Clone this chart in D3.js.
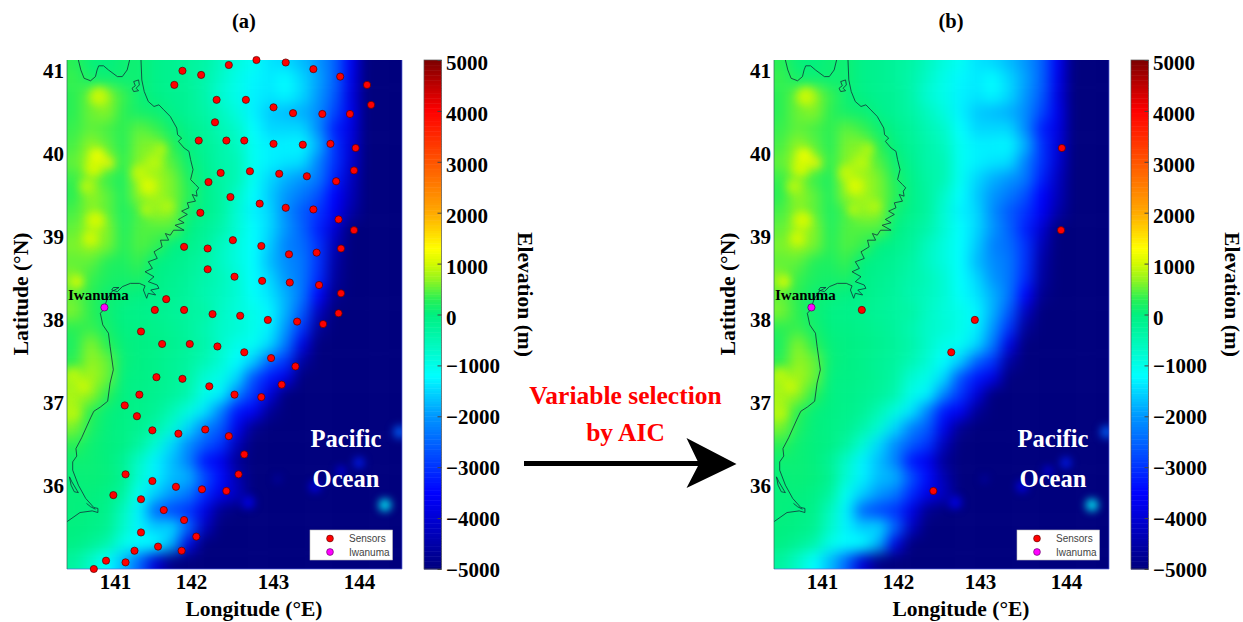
<!DOCTYPE html>
<html lang="en">
<head>
  <meta charset="UTF-8">
  <title>Sensor layout before and after variable selection</title>
  <script src="https://cdn.jsdelivr.net/npm/d3@7"></script>
  <style>
    body { margin: 0; background: #fff; }
    svg { display: block; }
    text { font-family: "Liberation Serif", serif; font-weight: bold; fill: #000; }
    .legend-label { font-family: "Liberation Sans", sans-serif; font-weight: normal; font-size: 10px; fill: #444; }
  </style>
</head>
<body>
<svg width="1243" height="622"></svg>
<script>
// elevation, one row per latitude, one value per longitude (m)
var gridLon = [140.5,140.7,140.9,141.1,141.3,141.5,141.7,141.9,142.1,142.3,142.5,142.7,142.9,143.1,143.3,143.5,143.7,143.9,144.1,144.3,144.5];
var gridLat = [41.1,40.9,40.7,40.5,40.3,40.1,39.9,39.7,39.5,39.3,39.1,38.9,38.7,38.5,38.3,38.1,37.9,37.7,37.5,37.3,37.1,36.9,36.7,36.5,36.3,36.1,35.9,35.7,35.5,35.3,35.1];
var elevation = [
  [300,50,0,100,100,-100,-150,-250,-350,-600,-900,-1100,-1400,-1500,-1700,-2000,-2500,-3600,-5000,-5000,-5000],
  [350,150,100,80,100,-100,-150,-250,-400,-700,-1000,-1250,-1350,-1200,-1500,-1900,-2500,-3700,-5000,-5000,-5000],
  [300,550,700,350,80,-50,-150,-200,-400,-800,-1000,-1300,-1400,-1250,-1500,-2000,-2600,-3800,-5000,-5000,-5000],
  [300,550,650,300,150,100,-100,-200,-350,-600,-900,-1300,-1600,-1700,-1800,-2100,-2800,-3700,-5000,-5000,-5000],
  [350,500,400,300,500,350,100,-100,-250,-500,-700,-1200,-1500,-1500,-1500,-2100,-3200,-3800,-5000,-5000,-5000],
  [400,700,500,250,600,650,300,0,-200,-400,-600,-1100,-1300,-1300,-1250,-1800,-3000,-3900,-5000,-5000,-5000],
  [500,800,800,300,650,700,450,100,-150,-400,-500,-1100,-1300,-1400,-1450,-2200,-3000,-4000,-5000,-5000,-5000],
  [350,650,350,200,750,800,600,200,-100,-350,-500,-1100,-1500,-1800,-2000,-2300,-3200,-4200,-5000,-5000,-5000],
  [300,700,500,200,700,800,600,300,-100,-300,-700,-1200,-1600,-2000,-2300,-2700,-3500,-4300,-5000,-5000,-5000],
  [400,650,500,200,400,700,650,100,-100,-300,-800,-1300,-1500,-2100,-2600,-3000,-3600,-4500,-5000,-5000,-5000],
  [500,750,650,200,450,450,450,0,-200,-400,-800,-1200,-1500,-2000,-2500,-3200,-4000,-5000,-5000,-5000,-5000],
  [600,750,600,250,450,350,-20,-100,-250,-600,-900,-1200,-1600,-2200,-2400,-3000,-4300,-5000,-5000,-5000,-5000],
  [500,500,250,200,350,-10,-100,-200,-350,-650,-900,-1200,-1700,-2100,-2300,-3000,-4500,-5000,-5000,-5000,-5000],
  [650,350,200,150,200,-50,-150,-250,-400,-550,-800,-1200,-1500,-2000,-2300,-3100,-4600,-5000,-5000,-5000,-5000],
  [500,300,100,50,-20,-80,-180,-280,-450,-600,-800,-1150,-1400,-1800,-2300,-3500,-4800,-5000,-5000,-5000,-5000],
  [600,300,100,-50,-100,-150,-220,-300,-350,-650,-850,-1000,-1250,-1800,-2600,-4200,-5000,-5000,-5000,-5000,-5000],
  [300,350,150,0,-50,-100,-180,-280,-450,-700,-800,-1000,-1300,-2000,-3000,-4700,-5000,-5000,-5000,-5000,-5000],
  [200,650,300,30,-30,-80,-150,-250,-400,-700,-1000,-1100,-1500,-2300,-3800,-5000,-5000,-5000,-5000,-5000,-5000],
  [300,700,550,50,-30,-100,-200,-300,-500,-800,-1200,-1600,-2500,-3000,-4600,-5000,-5000,-5000,-5000,-5000,-5000],
  [700,800,550,0,-50,-100,-200,-350,-800,-1000,-1500,-2700,-3300,-3800,-5000,-5000,-5000,-5000,-5000,-5000,-5000],
  [800,700,300,-20,-80,-150,-250,-450,-1000,-1300,-2200,-3000,-3900,-5000,-5000,-5000,-5000,-5000,-5000,-5000,-5000],
  [800,300,50,-30,-100,-200,-500,-900,-1400,-2200,-3300,-3600,-4700,-5000,-5000,-5000,-5000,-5000,-5000,-5000,-5000],
  [600,200,30,-50,-150,-400,-800,-1500,-2200,-2600,-3700,-4800,-5000,-5000,-5000,-5000,-5000,-5000,-5000,-5000,-5000],
  [300,100,20,-50,-300,-800,-1500,-2100,-2600,-3000,-4300,-5000,-5000,-5000,-5000,-5000,-5000,-5000,-5000,-5000,-5000],
  [100,80,20,-200,-700,-1300,-1700,-2200,-3300,-3700,-4700,-5000,-5000,-5000,-5000,-5000,-5000,-5000,-5000,-5000,-5000],
  [50,60,30,-150,-800,-1300,-1700,-1800,-2700,-3400,-4400,-5000,-5000,-5000,-5000,-5000,-5000,-5000,-5000,-5000,-5000],
  [30,30,-50,-300,-1100,-1600,-2000,-2300,-3100,-3800,-4200,-5000,-5000,-5000,-5000,-5000,-5000,-5000,-5000,-5000,-5000],
  [30,-30,-100,-600,-1300,-2500,-2800,-3000,-3800,-4800,-5000,-5000,-5000,-5000,-5000,-5000,-5000,-5000,-5000,-5000,-5000],
  [0,-50,-150,-700,-1300,-1600,-1500,-2500,-4200,-5000,-5000,-5000,-5000,-5000,-5000,-5000,-5000,-5000,-5000,-5000,-5000],
  [-50,-200,-400,-1000,-1200,-1200,-1800,-3800,-5000,-5000,-5000,-5000,-5000,-5000,-5000,-5000,-5000,-5000,-5000,-5000,-5000],
  [-300,-700,-1200,-1700,-2500,-4000,-4900,-5000,-5000,-5000,-5000,-5000,-5000,-5000,-5000,-5000,-5000,-5000,-5000,-5000,-5000]
];

// small features the grid is too coarse for: [lon, lat, elevation, radius]
var mountainPeaks = [
  [140.80,40.69,950,9],[140.78,39.97,1150,8],[140.92,39.89,1400,4],[140.74,39.83,1000,8],[140.66,39.61,850,7],
  [141.41,39.61,1050,8],[141.31,39.77,900,8],[141.56,40.05,850,6],[141.48,39.89,850,8],[141.64,39.37,850,6],
  [140.76,39.20,1000,9],[140.70,38.98,1000,7],[140.53,38.46,1050,6],[141.39,39.33,850,6],
  [140.61,37.20,950,6],[140.47,36.88,850,7],[140.49,37.32,850,8]
];
var seamounts = [
  [144.32,35.77,-1200,6],[144.50,36.65,-2500,6],[144.00,36.28,-3200,5],[143.78,36.18,-3500,4],
  [143.46,35.99,-3500,5],[142.64,35.80,-3700,6],[143.00,36.08,-4200,3]
];

var colorValues = [-5000,-3500,-2000,-1200,-500,0,300,700,1000,1300,2000,3000,4000,5000];
var colorStops = ["#00007d","#0000ff","#0096ff","#00ffff","#00f8b4","#00f080","#28f055","#96f51e","#d2fa00","#ffff00","#ffaa00","#ff5500","#ff0000","#7d0000"];

// sensors, [lon, lat]
var sensorsA = [
  [142.74,41.13],[143.10,41.10],[142.40,41.07],[143.44,41.02],[141.83,41.00],[142.06,40.95],[143.77,40.93],[141.73,40.83],[144.10,40.83],
  [142.25,40.65],[142.61,40.65],[144.15,40.59],[142.95,40.56],[143.19,40.49],[143.55,40.48],[143.89,40.48],[142.23,40.38],
  [142.03,40.16],[142.37,40.16],[142.59,40.16],[142.95,40.12],[143.31,40.11],[143.65,40.12],[143.96,40.07],
  [143.94,39.80],[142.30,39.77],[142.66,39.79],[143.02,39.76],[143.36,39.73],[143.72,39.67],[142.15,39.66],
  [142.42,39.48],[142.78,39.40],[143.10,39.35],[143.44,39.33],[142.05,39.29],[143.75,39.21],[143.94,39.08],
  [142.45,38.96],[141.85,38.88],[142.14,38.86],[142.80,38.89],[143.14,38.79],[143.48,38.81],[143.78,38.86],
  [142.14,38.61],[142.47,38.52],[142.81,38.47],[143.15,38.45],[143.51,38.42],[143.78,38.32],[141.63,38.25],
  [141.49,38.12],[141.85,38.12],[142.20,38.07],[142.54,38.05],[142.88,38.00],[143.24,37.98],[143.56,37.95],[143.75,38.08],
  [141.32,37.86],[141.58,37.71],[141.92,37.71],[142.26,37.68],[142.59,37.61],[142.92,37.54],[143.22,37.44],
  [143.05,37.22],[142.80,37.07],[142.47,37.10],[142.16,37.20],[141.83,37.29],[141.51,37.31],[141.30,37.10],[141.12,36.97],
  [141.27,36.84],[141.46,36.67],[141.78,36.63],[142.11,36.68],[142.40,36.60],[142.59,36.38],[142.52,36.14],[141.13,36.14],
  [141.46,36.06],[141.75,35.99],[142.07,35.96],[142.37,35.94],[140.98,35.89],[141.32,35.84],[141.60,35.71],[141.85,35.59],
  [141.32,35.44],[142.00,35.39],[141.53,35.27],[141.24,35.22],[141.82,35.22],[140.89,35.10],[141.13,35.08],[140.74,35.00]
];
var sensorsB = [[143.95,40.07],[143.94,39.08],[141.49,38.12],[142.88,38.00],[142.59,37.61],[142.37,35.94]];
var iwanuma = [140.87,38.15];

// coastline pieces, [lon, lat]
var coastBays = [[140.55,41.13],[140.58,41.01],[140.62,40.91],[140.70,40.88],[140.76,40.93],[140.78,41.01],[140.80,41.06],[140.86,41.06],[140.92,41.01],[141.03,40.93],[141.09,40.93],[141.15,41.01],[141.18,41.13]];
var coastLake1 = [[141.23,40.87],[141.29,40.89],[141.30,40.83],[141.26,40.79],[141.29,40.76],[141.23,40.75],[141.21,40.79],[141.25,40.82],[141.23,40.87]];
var coastLake2 = [[140.44,36.11],[140.47,36.05],[140.53,35.95],[140.55,35.92],[140.50,35.93],[140.46,36.01],[140.44,36.11]];
var coastSpit = [[140.65,35.79],[140.70,35.75],[140.76,35.72]];
var coastMain = [
  [141.32,41.13],[141.33,40.89],[141.36,40.75],[141.41,40.63],[141.48,40.57],[141.54,40.59],[141.60,40.53],[141.68,40.45],[141.76,40.31],[141.77,40.23],
  [141.82,40.19],[141.78,40.15],[141.85,40.07],[141.91,40.03],[141.93,39.93],[141.96,39.81],[141.93,39.69],[141.99,39.63],[142.03,39.59],[142.00,39.55],
  [142.01,39.49],[141.95,39.51],[141.99,39.43],[141.89,39.41],[141.91,39.35],[141.82,39.31],[141.89,39.27],[141.78,39.21],[141.85,39.17],[141.74,39.14],
  [141.85,39.08],[141.72,39.08],[141.68,39.02],[141.62,39.04],[141.66,38.96],[141.56,38.96],[141.58,38.88],[141.48,38.82],[141.52,38.74],[141.41,38.70],
  [141.46,38.62],[141.37,38.58],[141.48,38.52],[141.41,38.46],[141.52,38.42],[141.54,38.38],[141.44,38.36],[141.50,38.30],[141.41,38.32],[141.39,38.26],
  [141.35,38.36],[141.37,38.41],[141.30,38.44],[141.19,38.44],[141.09,38.40],[141.03,38.34],[140.96,38.36],[140.98,38.39],[141.05,38.39],[140.96,38.34],
  [140.90,38.24],[140.86,38.12],[140.82,38.08],[140.85,37.94],[140.92,37.84],[140.94,37.68],[140.98,37.40],[140.94,37.24],[140.91,37.02],[140.82,36.95],
  [140.74,36.90],[140.70,36.82],[140.59,36.58],[140.52,36.45],[140.53,36.36],[140.48,36.29],[140.48,36.19],[140.55,36.01],[140.64,35.85],[140.74,35.74],
  [140.79,35.73],[140.79,35.68],[140.72,35.70],[140.57,35.68],[140.41,35.57]
];

var lonTicks = [141,142,143,144];
var latTicks = [36,37,38,39,40,41];
var barTicks = [-5000,-4000,-3000,-2000,-1000,0,1000,2000,3000,4000,5000];

var svg = d3.select("svg");
var mapW = 335, mapH = 509;

var x = d3.scaleLinear().domain([140.41,144.53]).range([0,mapW]);
var y = d3.scaleLinear().domain([35,41.13]).range([mapH,0]);
var color = d3.scaleLinear().domain(colorValues).range(colorStops);
// the longitude labels in the figure sit unevenly, so they get their own scale
var lonLabelScale = d3.scaleLinear().domain(lonTicks).range([48,124,206,292]);
var barScale = d3.scaleLinear().domain([-5000,5000]).range([mapH,0]);

var defs = svg.append("defs");
defs.append("filter").attr("id","smooth")
  .attr("x","-5%").attr("y","-5%").attr("width","110%").attr("height","110%")
  .attr("color-interpolation-filters","sRGB")
  .append("feGaussianBlur").attr("stdDeviation",7);
defs.append("filter").attr("id","soft")
  .attr("x","-5%").attr("y","-5%").attr("width","110%").attr("height","110%")
  .attr("color-interpolation-filters","sRGB")
  .append("feGaussianBlur").attr("stdDeviation",4);
defs.append("clipPath").attr("id","mapClip")
  .append("rect").attr("width",mapW).attr("height",mapH);

var line = d3.line().x(function(d){ return x(d[0]) }).y(function(d){ return y(d[1]) });

function drawPanel(left, title, sensors) {
  var g = svg.append("g").attr("transform","translate("+left+",60)");

  // elevation cells
  var cells = [];
  gridLat.forEach(function(lat,r){
    gridLon.forEach(function(lon,c){
      cells.push({lon:lon, lat:lat, v:elevation[r][c], r:r, c:c});
    });
  });
  var cw = x(gridLon[1]) - x(gridLon[0]), ch = y(gridLat[1]) - y(gridLat[0]);
  var map = g.append("g").attr("clip-path","url(#mapClip)");
  map.append("g").attr("filter","url(#smooth)")
    .selectAll("rect").data(cells).enter().append("rect")
    // border cells run past the frame so the blur does not fade at the edge
    .attr("x",function(d){ return x(d.lon)-cw/2-(d.c==0?30:0) })
    .attr("y",function(d){ return y(d.lat)-ch/2-(d.r==0?30:0) })
    .attr("width",function(d){ return cw+0.5+((d.c==0||d.c==gridLon.length-1)?30:0) })
    .attr("height",function(d){ return ch+0.5+((d.r==0||d.r==gridLat.length-1)?30:0) })
    .attr("fill",function(d){ return color(d.v) });

  map.append("g").attr("filter","url(#soft)")
    .selectAll("circle").data(mountainPeaks.concat(seamounts)).enter().append("circle")
    .attr("cx",function(d){ return x(d[0]) }).attr("cy",function(d){ return y(d[1]) })
    .attr("r",function(d){ return d[3] })
    .attr("fill",function(d){ return color(d[2]) });

  map.selectAll("path.coast").data([coastBays,coastLake1,coastLake2,coastSpit,coastMain]).enter().append("path")
    .attr("class","coast").attr("d",line)
    .attr("fill","none").attr("stroke","#10303a").attr("stroke-width",0.8);

  // frame
  g.append("path").attr("d","M"+mapW+",0V"+mapH+"H0").attr("fill","none").attr("stroke","rgba(90,100,220,0.7)");
  g.append("path").attr("d","M0,0V"+mapH).attr("fill","none").attr("stroke","rgba(50,110,90,0.7)");

  // axes
  var xAxis = g.append("g").attr("transform","translate(0,"+mapH+")")
    .call(d3.axisBottom(lonLabelScale).tickValues(lonTicks).tickSize(0).tickFormat(d3.format("d")));
  xAxis.select(".domain").remove();
  xAxis.selectAll("text").attr("y",5).attr("dy","0.71em").style("font-size","21px").style("font-family","Liberation Serif");

  var yAxis = g.append("g")
    .call(d3.axisLeft(y).tickValues(latTicks).tickSize(0).tickFormat(d3.format("d")));
  yAxis.select(".domain").remove();
  yAxis.selectAll("text").attr("x",-3).style("font-size","21px").style("font-family","Liberation Serif");

  g.append("text").attr("x",187).attr("y",556).attr("text-anchor","middle").style("font-size","21.5px").text("Longitude (°E)");
  g.append("text").attr("transform","translate(-39,234) rotate(-90)").attr("text-anchor","middle").style("font-size","21.5px").text("Latitude (°N)");
  g.append("text").attr("x",177).attr("y",-32).attr("text-anchor","middle").style("font-size","20.5px").text(title);

  // sensors
  g.selectAll("circle.sensor").data(sensors).enter().append("circle")
    .attr("class","sensor")
    .attr("cx",function(d){ return x(d[0]) }).attr("cy",function(d){ return y(d[1]) })
    .attr("r",3.6).attr("fill","#ff0000").attr("stroke","#500").attr("stroke-width",0.7);
  g.append("circle").attr("cx",x(iwanuma[0])).attr("cy",y(iwanuma[1])).attr("r",3.6)
    .attr("fill","#ff00ff").attr("stroke","#505").attr("stroke-width",0.7);
  g.append("text").attr("x",1).attr("y",240).style("font-size","15px").text("Iwanuma");

  // ocean label
  g.append("text").attr("x",279).attr("y",387).attr("text-anchor","middle")
    .style("font-size","24.6px").style("fill","#fff").text("Pacific");
  g.append("text").attr("x",279).attr("y",427).attr("text-anchor","middle")
    .style("font-size","24.6px").style("fill","#fff").text("Ocean");

  // legend
  var lg = g.append("g").attr("transform","translate(243,470)");
  lg.append("rect").attr("width",82.5).attr("height",30).attr("fill","#fff").attr("stroke","#bbb").attr("stroke-width",0.6);
  lg.append("circle").attr("cx",20).attr("cy",8.5).attr("r",3.4).attr("fill","#ff0000").attr("stroke","#500").attr("stroke-width",0.6);
  lg.append("circle").attr("cx",20).attr("cy",22).attr("r",3.4).attr("fill","#ff00ff").attr("stroke","#505").attr("stroke-width",0.6);
  lg.append("text").attr("class","legend-label").attr("x",39).attr("y",12).text("Sensors");
  lg.append("text").attr("class","legend-label").attr("x",39).attr("y",25.5).text("Iwanuma");

  // colour bar
  var bar = g.append("g").attr("transform","translate(357,0)");
  bar.selectAll("rect").data(d3.range(-5000,5000,50)).enter().append("rect")
    .attr("x",0).attr("width",17.5)
    .attr("y",function(d){ return barScale(d+50) })
    .attr("height",barScale(0)-barScale(50)+0.5)
    .attr("fill",function(d){ return color(d+25) });
  bar.append("rect").attr("width",17.5).attr("height",mapH).attr("fill","none").attr("stroke","#555").attr("stroke-width",0.7);
  var barAxis = bar.append("g").attr("transform","translate(17.5,0)")
    .call(d3.axisRight(barScale).tickValues(barTicks).tickSize(-4).tickFormat(function(d){ return d<0 ? "−"+Math.abs(d) : d }));
  barAxis.select(".domain").remove();
  barAxis.selectAll("line").attr("stroke","#444");
  barAxis.selectAll("text").attr("x",4.5)
    .attr("dy",function(d){ return d>=0 ? "0.46em" : "0.34em" })
    .style("font-size","21px").style("font-family","Liberation Serif").style("text-anchor","start");
  g.append("text").attr("transform","translate(451,234.5) rotate(90)").attr("text-anchor","middle").style("font-size","21.5px").text("Elevation (m)");
}

drawPanel(67,"(a)",sensorsA);
drawPanel(774,"(b)",sensorsB);

// middle annotation
svg.append("text").attr("x",625.5).attr("y",404).attr("text-anchor","middle").style("font-size","25.5px").style("fill","#ff0000").text("Variable selection");
svg.append("text").attr("x",625.5).attr("y",441).attr("text-anchor","middle").style("font-size","25.5px").style("fill","#ff0000").text("by AIC");
svg.append("line").attr("x1",524).attr("x2",702).attr("y1",463.5).attr("y2",463.5).attr("stroke","#000").attr("stroke-width",5);
svg.append("path").attr("d","M736.5,464L686.5,438L699,464L686.5,488Z").attr("fill","#000");
</script>
</body>
</html>
